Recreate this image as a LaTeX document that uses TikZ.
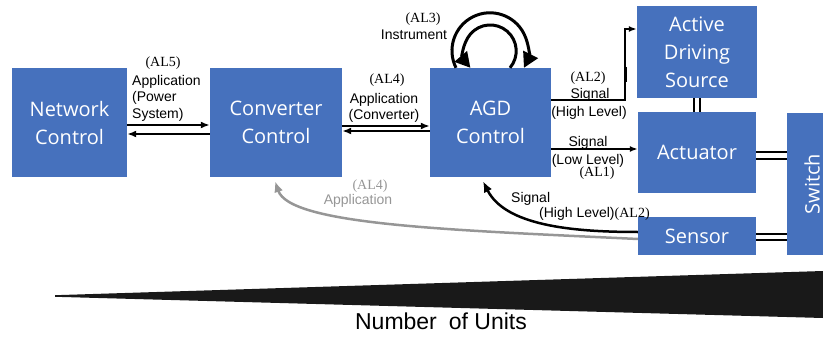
\documentclass[tikz,border=0pt]{standalone}
\usepackage{fontspec}
\setmainfont{Liberation Sans}
\newfontfamily\boxfont{Open Sans}
\newfontfamily\alfont{Liberation Serif}
\usetikzlibrary{arrows.meta,calc}
\definecolor{boxblue}{RGB}{70,113,189}
\definecolor{linkgray}{RGB}{150,150,150}
\definecolor{wedgeblack}{RGB}{25,25,25}

\tikzset{
  unit/.style={fill=boxblue, text=white, font=\boxfont\fontsize{20}{28}\selectfont,
    align=center, inner sep=0pt},
  lab/.style={font=\fontsize{14}{16.5}\selectfont, inner sep=0pt, anchor=north},
  al/.style={font=\alfont\fontsize{14}{16.5}\selectfont, inner sep=0pt, anchor=north},
  pipe/.style={line width=2pt, -{Latex[length=9pt,width=7pt]}},
  sig/.style={line width=1.6pt, -{Latex[length=8pt,width=6pt]}},
  selfloop/.style={line width=3pt, -{Triangle[length=15pt,width=16pt]}},
  dbl/.style={line width=2pt},
  feedback/.style={line width=2.5pt, -{Latex[length=11pt,width=9pt]}},
}

\begin{document}
\begin{tikzpicture}[x=1pt,y=-1pt]
\useasboundingbox (0,0) rectangle (823,337);
\clip (0,0) rectangle (823,337);

% control hierarchy blocks
\node[unit, minimum width=115pt, minimum height=109pt] (net)    at (69.5,122.5) {Network\\Control};
\node[unit, minimum width=132pt, minimum height=109pt] (conv)   at (276,122.5)  {Converter\\Control};
\node[unit, minimum width=121pt, minimum height=109pt] (agd)    at (490.5,122.5){AGD\\Control};
\node[unit, minimum width=120pt, minimum height=92pt]  (active) at (697,52)     {Active\\Driving\\Source};
\node[unit, minimum width=118pt, minimum height=81pt]  (act)    at (697,152.5)  {Actuator};
\node[unit, minimum width=118pt, minimum height=38pt]  (sen)    at (697,236)    {Sensor};
\node[unit, minimum width=50pt,  minimum height=142pt] (sw)     at (812,184)    {};
\node[font=\boxfont\fontsize{20}{28}\selectfont, text=white, rotate=90, inner sep=0pt] (swtext) at (sw.center) {Switch};

% application links between control levels
\draw[pipe] ([yshift=-2.5pt]net.east) -- ([yshift=-2.5pt]conv.west);
\draw[pipe] ([yshift=-11.5pt]conv.west) -- ([yshift=-11.5pt]net.east);
\draw[pipe] ([yshift=-3.5pt]conv.east) -- ([yshift=-3.5pt]agd.west);
\draw[pipe] ([yshift=-8.5pt]agd.west) -- ([yshift=-8.5pt]conv.east);

% instrument self loops on the AGD control
\draw[selfloop] ([xshift=-34.5pt]agd.north) arc[start angle=153.4, end angle=386.6, radius=38];
\draw[selfloop] ([xshift=19.5pt]agd.north) arc[start angle=40.4, end angle=-220.4, radius=26];

% signals to the power stage
\coordinate (bend) at (625,29);
\draw[sig] ([yshift=22.5pt]agd.east) -| (bend) -- (bend -| active.west);
\draw[line width=3pt] (625,67) -- (625,82);
\draw[sig] ([yshift=-26.5pt]agd.east) -- ([yshift=-26.5pt]agd.east -| act.west);

% power connections
\draw[dbl] ([xshift=-3pt]active.south) -- ([xshift=-3pt]act.north);
\draw[dbl] ([xshift=3pt]active.south) -- ([xshift=3pt]act.north);
\draw[dbl] ([yshift=0.5pt]act.east) -- ([yshift=0.5pt]act.east -| sw.west);
\draw[dbl] ([yshift=-6.5pt]act.east) -- ([yshift=-6.5pt]act.east -| sw.west);
\draw[dbl] ([yshift=2pt]sen.east) -- ([yshift=2pt]sen.east -| sw.west);
\draw[dbl] ([yshift=-4pt]sen.east) -- ([yshift=-4pt]sen.east -| sw.west);

% sensor feedback
\draw[feedback, linkgray] ([yshift=-3pt]sen.west) .. controls (450,230) and (290,225) .. ([xshift=-1pt,yshift=-4pt]conv.south);
\draw[feedback] ([yshift=4pt]sen.west) .. controls (570,232) and (505,225) .. ([xshift=-7.5pt,yshift=-4pt]agd.south);

% labels
\node[al] (l5)   at (163,57) {(AL5)};
\node[lab, anchor=north west, align=left] (l5t) at (132,75) {Application\\(Power\\System)};
\node[al] (l4)   at (387,74) {(AL4)};
\node[lab, align=center] (l4t) at (384,93) {Application\\(Converter)};
\node[al] (l3)   at (423,13) {(AL3)};
\node[lab] (l3t) at (414,30) {Instrument};
\node[al] (l2)   at (588,72) {(AL2)};
\node[lab] (s2)  at (590,88) {Signal};
\node[lab] (h2)  at (589,106) {(High Level)};
\node[lab] (s1)  at (588,136) {Signal};
\node[lab] (w1)  at (588,154) {(Low Level)};
\node[al] (l1)   at (597,167) {(AL1)};
\node[lab, anchor=north west] (sb) at (511,192) {Signal};
\node[lab, anchor=north west] (hb) at (539,207) {(High Level){\alfont (AL2)}};
\node[al, text=linkgray] (g4) at (370,180) {(AL4)};
\node[lab, text=linkgray] (g4t) at (358,194) {Application};

% scale of the number of units
\fill[wedgeblack] (55,295.2) -- (823,271) -- (823,318) -- (55,296.8) -- cycle;
\node[font=\fontsize{23}{27}\selectfont, inner sep=0pt, anchor=north] (units) at (441,313) {Number\hspace{12pt}of Units};
\end{tikzpicture}
\end{document}
